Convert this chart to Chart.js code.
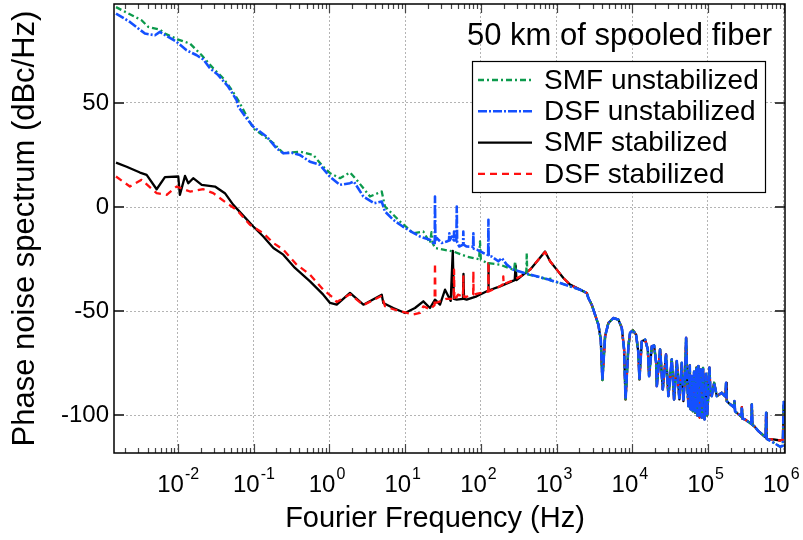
<!DOCTYPE html>
<html lang="en">
<head>
<meta charset="UTF-8">
<title>Phase noise spectrum - 50 km of spooled fiber</title>
<script src="https://cdn.jsdelivr.net/npm/chart.js@4"></script>
<style>
  html, body { margin: 0; padding: 0; background: #fff; }
  #wrap { width: 803px; height: 540px; }
</style>
</head>
<body>
<div id="wrap"><canvas id="noiseChart" width="803" height="540"></canvas></div>
<script>
  // values: frequency (Hz) and phase noise (dBc/Hz)
  const plotTitle = '50 km of spooled fiber';
  const xTitle = 'Fourier Frequency (Hz)';
  const yTitle = 'Phase noise spectrum (dBc/Hz)';
  const seriesNames = ['SMF unstabilized', 'DSF unstabilized', 'SMF stabilized', 'DSF stabilized'];

  const smfUnstabF = [0.00152, 0.00331, 0.00406, 0.00578, 0.00673, 0.0101, 0.0144, 0.0206, 0.0293, 0.0396,
    0.0486, 0.0626, 0.0694, 0.0989, 0.182, 0.246, 0.409, 0.613, 0.83, 1.02,
    1.38, 1.87, 2.29, 3.44, 4.91, 5.42, 8.57, 12.8, 17.4, 21.3,
    22.3, 23.3, 24.8, 32, 43.4, 65.1, 95, 97.5, 100, 120,
    179, 275, 283, 291, 398, 404, 410, 740, 812, 821,
    830, 1112, 1507, 2043];
  const smfUnstabV = [96, 89.7, 86.5, 85.2, 83.3, 80.4, 78.5, 72.9, 66.6, 61.8,
    57.5, 51.3, 48.2, 37.8, 30.7, 25.9, 26.6, 25, 19.4, 16.3,
    13.9, 16.6, 13.1, 5.1, 7.5, 0.3, -6.9, -12.5, -11.7, -17.2,
    -12, -17.5, -19.6, -20.4, -21.3, -23.7, -25, -16.5, -25.2, -26.8,
    -27.6, -30.2, -26, -30.4, -32, -22, -32.2, -34.5, -35, -33.2,
    -35.2, -36.4, -38, -39.6];

  const dsfUnstabF = [0.00152, 0.00232, 0.00366, 0.00497, 0.00578, 0.00744, 0.0096, 0.013, 0.0177, 0.0216,
    0.0265, 0.034, 0.0462, 0.0596, 0.0626, 0.0808, 0.0989, 0.149, 0.201, 0.246,
    0.318, 0.409, 0.555, 0.751, 1.02, 1.38, 1.87, 2.1, 2.81, 3.9,
    4.91, 5.42, 6.98, 9.3, 12, 15.7, 21.3, 24.6, 24.8, 25.1,
    26.1, 30.5, 35.4, 38, 38.4, 38.8, 41.3, 44, 44.3, 44.6,
    47.5, 48.1, 48.7, 52, 58.3, 58.7, 59.2, 65.1, 79, 79.7,
    80.4, 88.3, 108, 125, 126, 127, 139, 170, 189, 220,
    269, 447, 743, 1112, 1507, 2043];
  const dsfUnstabV = [92.9, 88.9, 83.3, 82.5, 84.1, 81.7, 79.3, 75.3, 72.9, 70.9,
    66.6, 63.4, 57.8, 51.3, 48.2, 42.6, 38.6, 33.8, 28.2, 25.9,
    26.1, 25, 21.8, 20.3, 14.5, 10.7, 11.5, 12.3, 5.1, 1.9,
    2.7, -2.1, -6.1, -9.3, -11.7, -14.1, -15.7, -18, 5.1, -16,
    -14.8, -17.2, -16.5, -16, -12.5, -16, -14.1, -16, -11.7, -16,
    -16, 0.3, -17, -18.9, -18, -11.7, -18, -18.9, -19, -12.5,
    -20, -20.4, -22, -23, -6.1, -23.5, -23.7, -26, -24.4, -27.6,
    -30, -32.4, -34.5, -36.4, -38, -39.6];

  const smfStabF = [0.00152, 0.0021, 0.00315, 0.00386, 0.00523, 0.00673, 0.0101, 0.0106, 0.0124, 0.0137,
    0.0159, 0.0206, 0.0308, 0.0417, 0.0538, 0.0989, 0.134, 0.182, 0.246, 0.351,
    0.555, 0.83, 1.02, 1.25, 1.87, 2.81, 4.91, 5.15, 6.98, 9.98,
    13.5, 17.4, 21.3, 24.8, 28.9, 33.7, 40, 42.6, 44, 48,
    58, 59, 60, 65, 88, 120, 125, 126, 127, 179,
    280, 288, 296, 364, 447, 575, 705, 821, 1006, 1230,
    1507, 2043];
  const smfStabV = [21.4, 19.4, 16.6, 15.5, 8.6, 14.4, 14.7, 5.9, 15, 11.5,
    13.9, 10.7, 9.9, 6.7, 1.1, -9.3, -14.1, -19.6, -22.8, -29.2,
    -35.6, -42, -46, -46.8, -41.2, -46.8, -42, -46, -48.4, -50.8,
    -48.4, -45.2, -48.4, -44.4, -46.8, -39.6, -45, -21, -44, -44.4,
    -44, -32, -44, -44.4, -42.8, -40.4, -40, -27, -40, -38,
    -35, -28, -35, -32.4, -30, -25.2, -21.3, -26, -30, -34,
    -37.2, -39.6];

  const dsfStabF = [0.00152, 0.00232, 0.00331, 0.00523, 0.0071, 0.0096, 0.0144, 0.0216, 0.0293, 0.044,
    0.0596, 0.0894, 0.134, 0.182, 0.246, 0.37, 0.555, 0.83, 1.13, 1.25,
    1.87, 2.81, 4.91, 5.42, 6.98, 9.98, 12.8, 15.7, 17.4, 21.3,
    24.5, 24.8, 25.2, 30, 35, 43.8, 44.3, 44.8, 50, 58.2,
    58.7, 59.2, 65, 79.2, 79.7, 80.2, 90, 125, 126, 127,
    179, 196, 198, 200, 269, 364, 447, 575, 705, 821,
    1006, 1230, 1507, 2043];
  const dsfStabV = [14.7, 9.9, 13.1, 6.7, 5.9, 9.9, 7.5, 8.6, 6.7, 1.9,
    -1.3, -8.5, -12.5, -17.2, -20.4, -27.6, -32.4, -39.6, -43.6, -45.5,
    -41.8, -47, -42.5, -47.5, -49, -50.5, -51.5, -50.8, -47.6, -49,
    -47, -26.8, -46, -45, -44, -44, -30, -45, -42, -43,
    -33.2, -43, -43, -42, -30.8, -42, -41.5, -40.5, -26, -40.5,
    -38, -37, -33.2, -37, -35, -32.4, -30, -25.2, -21.5, -26,
    -30, -34, -37.2, -39.6];

  // above ~2 kHz all four traces sit on the same fiber response
  const tailF = [2506, 2630, 2915, 3063, 3566, 3837, 4030, 4376, 4839, 5633,
    6558, 7274, 7800, 8150, 8890, 9354, 10160, 11230, 12050, 12420,
    13360, 14780, 16040, 16680, 18110, 19420, 20650, 21090, 23290, 25290,
    27930, 29990, 33250, 35650, 38720, 41890, 45080, 47320, 50000, 51400,
    53000, 55080, 57500, 59000, 61090, 63000, 65470, 67500, 70500, 72500,
    74650, 77500, 80350, 83000, 86000, 90000, 94400, 97500, 101000, 104500,
    108000, 112200, 120500, 130700, 152100, 170000, 173400, 177000, 186200, 219000,
    223400, 228000, 240400, 275000, 280000, 286000, 309000, 372000, 379000, 386000,
    406500, 463000, 578000, 586000, 594000, 610000];
  const tailV = [-41.2, -43.6, -46.8, -49.2, -56.4, -63.6, -83, -62, -55.6, -53.2,
    -54, -58, -68.3, -92.3, -66.8, -60.3, -59.1, -61.2, -69.9, -82.7,
    -64.4, -63.6, -68.3, -81.1, -66.8, -66.4, -74.7, -85.9, -68.3, -87.5,
    -70.7, -90.7, -73.1, -92.3, -73.9, -92.3, -74.7, -93.1, -80, -62.7,
    -82, -95.5, -76, -97, -81.1, -98, -79, -98.7, -77, -100,
    -76.3, -101, -78, -101, -77.1, -101.9, -80, -100, -90, -77,
    -90, -90.7, -84.3, -90.7, -89.1, -91, -84.3, -93, -93.9, -96,
    -93.1, -98, -98.7, -100.5, -96, -101.5, -101.9, -104, -94.7, -104.5,
    -105.1, -107.5, -110.5, -98.7, -111, -111.4];

  const endF = [731000, 897000, 975000, 1000000];
  const unstabEndV = [-113, -115, -114.5, -93];
  const stabEndV = [-111.5, -112, -111.5, -95];

  const xDecades = [1e-2, 1e-1, 1e0, 1e1, 1e2, 1e3, 1e4, 1e5, 1e6];
  const yTicks = [-100, -50, 0, 50];

  function toPoints(f, v, endV) {
    const fs = f.concat(tailF, endF);
    const vs = v.concat(tailV, endV);
    return fs.map((x, i) => ({ x: x, y: vs[i] }));
  }

  const FONT = '"Liberation Sans", Arial, Helvetica, sans-serif';
  Chart.defaults.font.family = FONT;
  Chart.defaults.color = '#000';

  const GRID = '#b4b4b4';

  const frameAndTicks = {
    id: 'frameAndTicks',
    afterDatasetsDraw(chart) {
      const { ctx, chartArea: a, scales: { x, y } } = chart;
      ctx.save();
      ctx.strokeStyle = '#444';
      ctx.lineWidth = 1.2;
      ctx.beginPath();
      for (let e = -3; e <= 6; e++) {
        for (let m = 1; m <= 9; m++) {
          const v = m * Math.pow(10, e);
          if (v < x.min || v > x.max) continue;
          const px = Math.round(x.getPixelForValue(v)) + 0.5;
          const len = m === 1 ? 9 : 5;
          ctx.moveTo(px, a.bottom); ctx.lineTo(px, a.bottom - len);
          ctx.moveTo(px, a.top); ctx.lineTo(px, a.top + len);
        }
      }
      ctx.stroke();
      ctx.lineWidth = 2;
      ctx.beginPath();
      yTicks.forEach(v => {
        const py = Math.round(y.getPixelForValue(v));
        ctx.moveTo(a.left, py); ctx.lineTo(a.left + 10, py);
        ctx.moveTo(a.right, py); ctx.lineTo(a.right - 10, py);
      });
      ctx.stroke();
      ctx.strokeStyle = '#000';
      ctx.lineWidth = 1.5;
      ctx.strokeRect(a.left, a.top, a.right - a.left, a.bottom - a.top);

      // x tick labels written as 10 with a raised exponent
      ctx.fillStyle = '#000';
      ctx.textBaseline = 'alphabetic';
      xDecades.forEach(v => {
        const px = x.getPixelForValue(v);
        const exp = String(Math.round(Math.log10(v)));
        ctx.font = '24px ' + FONT;
        ctx.textAlign = 'right';
        ctx.fillText('10', px + 6, 492);
        ctx.font = '16px ' + FONT;
        ctx.textAlign = 'left';
        ctx.fillText(exp, px + 7, 479);
      });

      // axis titles
      ctx.font = '29px ' + FONT;
      ctx.textAlign = 'center';
      ctx.fillText(xTitle, 435, 527);
      ctx.save();
      ctx.translate(34, (a.top + a.bottom) / 2);
      ctx.rotate(-Math.PI / 2);
      ctx.font = '31px ' + FONT;
      ctx.fillText(yTitle, 0, 0);
      ctx.restore();
      ctx.restore();
    }
  };

  const legendBox = {
    id: 'legendBox',
    afterDraw(chart) {
      const ctx = chart.ctx;
      ctx.save();
      ctx.fillStyle = '#000';
      ctx.font = '31px ' + FONT;
      ctx.textBaseline = 'alphabetic';
      ctx.textAlign = 'left';
      ctx.fillText(plotTitle, 467, 45);

      ctx.fillStyle = '#fff';
      ctx.fillRect(472, 61, 293, 131);
      ctx.strokeStyle = '#000';
      ctx.lineWidth = 1.2;
      ctx.strokeRect(472.5, 61.5, 293, 131);

      chart.data.datasets.forEach((ds, i) => {
        const yy = 80 + i * 31.3;
        ctx.strokeStyle = ds.borderColor;
        ctx.lineWidth = ds.borderWidth;
        ctx.setLineDash(ds.borderDash || []);
        ctx.beginPath();
        ctx.moveTo(478, yy);
        ctx.lineTo(532, yy);
        ctx.stroke();
        ctx.setLineDash([]);
        ctx.fillStyle = '#000';
        ctx.font = '28px ' + FONT;
        ctx.textBaseline = 'middle';
        ctx.fillText(ds.label, 544, yy + 1);
      });
      ctx.restore();
    }
  };

  new Chart(document.getElementById('noiseChart'), {
    type: 'line',
    data: {
      datasets: [
        { label: seriesNames[0], data: toPoints(smfUnstabF, smfUnstabV, unstabEndV),
          borderColor: '#0c9a4c', borderWidth: 2.3, borderDash: [6, 3, 2, 3], order: 1 },
        { label: seriesNames[1], data: toPoints(dsfUnstabF, dsfUnstabV, unstabEndV),
          borderColor: '#1450ff', borderWidth: 2.6, borderDash: [9, 2, 2, 2], order: 0 },
        { label: seriesNames[2], data: toPoints(smfStabF, smfStabV, stabEndV),
          borderColor: '#000000', borderWidth: 2.3, borderDash: [], order: 3 },
        { label: seriesNames[3], data: toPoints(dsfStabF, dsfStabV, stabEndV),
          borderColor: '#ff1010', borderWidth: 2.3, borderDash: [7, 5], order: 2 }
      ]
    },
    options: {
      responsive: false,
      animation: false,
      layout: { padding: { left: 5, right: 18, top: 4, bottom: 0 } },
      elements: {
        point: { radius: 0 },
        line: { tension: 0, borderJoinStyle: 'round', fill: false }
      },
      plugins: { legend: { display: false }, tooltip: { enabled: false } },
      scales: {
        x: {
          type: 'logarithmic',
          min: 0.00143,
          max: 1.04e6,
          afterBuildTicks: s => { s.ticks = xDecades.map(v => ({ value: v })); },
          afterFit: s => { s.height = 87; s.paddingLeft = 0; s.paddingRight = 0; },
          ticks: { display: false },
          grid: { color: GRID, lineWidth: 1, drawTicks: false },
          border: { display: false, dash: [2, 2] }
        },
        y: {
          min: -118,
          max: 97.5,
          afterBuildTicks: s => { s.ticks = yTicks.map(v => ({ value: v })); },
          afterFit: s => { s.width = 109; s.paddingTop = 0; s.paddingBottom = 0; },
          ticks: { font: { size: 24 }, color: '#000', padding: 5 },
          grid: { color: GRID, lineWidth: 1, drawTicks: false },
          border: { display: false, dash: [2, 2] }
        }
      }
    },
    plugins: [frameAndTicks, legendBox]
  });
</script>
</body>
</html>
